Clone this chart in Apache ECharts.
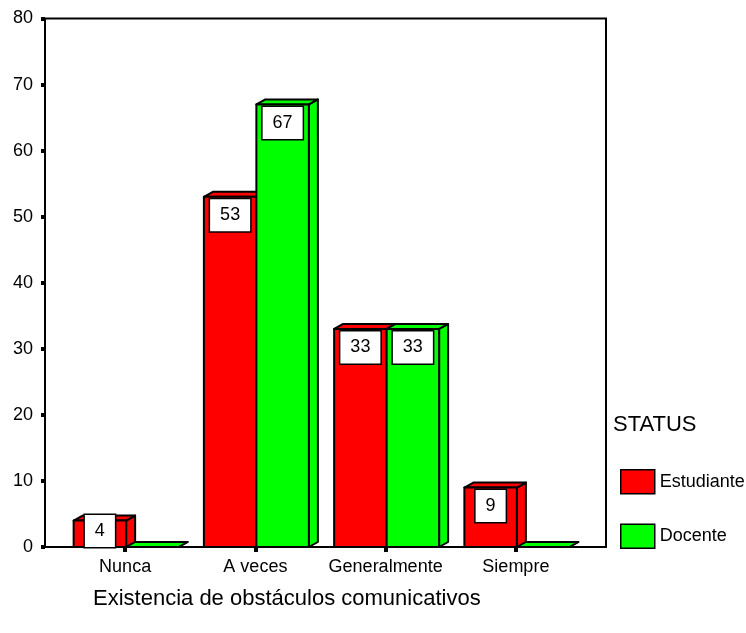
<!DOCTYPE html>
<html>
<head>
<meta charset="utf-8">
<script src="https://cdn.jsdelivr.net/npm/echarts@6/dist/echarts.min.js"></script>
<style>
  html, body { margin: 0; padding: 0; background: #fff; }
  #chart { width: 746px; height: 633px; }
</style>
</head>
<body>
<div id="chart"></div>
<script>
// Response categories and counts per group
const categories = ['Nunca', 'A veces', 'Generalmente', 'Siempre'];
const estudiante = [4, 53, 33, 9];
const docente = [0, 67, 33, 0];
const seriesNames = ['Estudiante', 'Docente'];
const axisTitle = 'Existencia de obstáculos comunicativos';
const legendTitle = 'STATUS';

const FONT = 'Arial, "Liberation Sans", sans-serif';
const DEPTH_X = 9;   // pseudo-3D depth offset
const DEPTH_Y = 5;

// Draws one box-style bar (front, top and right faces) plus its value tag
function barRenderer(slot) {
  return function (params, api) {
    const i = api.value(0);
    const v = api.value(1);
    const base = api.coord([i, 0]);
    const top = api.coord([i, v]);
    const band = api.size([1, 0])[0];
    const w = band * 0.403;
    const x0 = slot === 0 ? base[0] - w + 1 : base[0] + 1;
    const x1 = x0 + w;
    const yT = top[1];
    const yB = base[1];
    const st = { fill: api.visual('color'), stroke: '#000', lineWidth: 2, lineJoin: 'round' };
    const children = [
      { type: 'polygon', shape: { points: [[x1, yB], [x1 + DEPTH_X, yB - DEPTH_Y], [x1 + DEPTH_X, yT - DEPTH_Y], [x1, yT]] }, style: st },
      { type: 'polygon', shape: { points: [[x0, yT], [x0 + DEPTH_X, yT - DEPTH_Y], [x1 + DEPTH_X, yT - DEPTH_Y], [x1, yT]] }, style: st },
      { type: 'rect', shape: { x: x0, y: yT, width: w, height: yB - yT }, style: st }
    ];
    if (v > 0) {
      const boxTop = Math.min(yT + 2.5, yB - 32);
      children.push({
        type: 'text',
        x: (x0 + x1) / 2,
        y: boxTop,
        style: {
          text: String(v),
          font: '18px ' + FONT,
          fill: '#000',
          align: 'center',
          verticalAlign: 'top',
          backgroundColor: '#fff',
          borderColor: '#000',
          borderWidth: 1.5,
          padding: [7, 10, 7, 10]
        }
      });
    }
    return { type: 'group', children: children };
  };
}

const chart = echarts.init(document.getElementById('chart'), null, { renderer: 'canvas' });
chart.setOption({
  animation: false,
  backgroundColor: '#fff',
  textStyle: { fontFamily: FONT },
  color: ['#ff0000', '#00ff00'],
  title: [
    { text: legendTitle, left: 613, top: 414, padding: 0,
      textStyle: { fontSize: 22, fontWeight: 'normal', color: '#000', fontFamily: FONT } },
    { text: axisTitle, left: 93, top: 588, padding: 0,
      textStyle: { fontSize: 22, fontWeight: 'normal', color: '#000', fontFamily: FONT } }
  ],
  legend: {
    orient: 'vertical',
    left: 620,
    top: 469,
    padding: 0,
    itemWidth: 34,
    itemHeight: 24,
    itemGap: 29,
    icon: 'rect',
    itemStyle: { borderColor: '#000', borderWidth: 1.5 },
    textStyle: { fontSize: 18, color: '#000', fontFamily: FONT },
    data: seriesNames
  },
  grid: [
    { left: 45, top: 18.5, width: 561, height: 528.5, show: true, borderColor: '#000', borderWidth: 2, backgroundColor: 'transparent' },
    { left: 60, top: 18.5, width: 521, height: 528.5 }
  ],
  xAxis: [
    { gridIndex: 0, type: 'value', min: 0, max: 1, show: false },
    {
      gridIndex: 1,
      type: 'category',
      data: categories,
      axisLine: { show: false },
      axisTick: { show: true, alignWithLabel: true, interval: 0, length: 5, lineStyle: { width: 4, color: '#000' } },
      axisLabel: { interval: 0, margin: 11, fontSize: 18, color: '#000', fontFamily: FONT },
      splitLine: { show: false }
    }
  ],
  yAxis: [
    {
      gridIndex: 0,
      type: 'value',
      min: 0,
      max: 80,
      interval: 10,
      axisLine: { show: false },
      axisTick: { show: true, length: 4, lineStyle: { width: 4, color: '#000' } },
      axisLabel: { margin: 12, fontSize: 18, color: '#000', fontFamily: FONT },
      splitLine: { show: false }
    },
    { gridIndex: 1, type: 'value', min: 0, max: 80, show: false }
  ],
  series: [
    {
      type: 'custom',
      name: seriesNames[0],
      xAxisIndex: 1,
      yAxisIndex: 1,
      itemStyle: { color: '#ff0000' },
      encode: { x: 0, y: 1 },
      data: estudiante.map(function (v, i) { return [i, v]; }),
      renderItem: barRenderer(0)
    },
    {
      type: 'custom',
      name: seriesNames[1],
      xAxisIndex: 1,
      yAxisIndex: 1,
      itemStyle: { color: '#00ff00' },
      encode: { x: 0, y: 1 },
      data: docente.map(function (v, i) { return [i, v]; }),
      renderItem: barRenderer(1)
    }
  ]
});
</script>
</body>
</html>
